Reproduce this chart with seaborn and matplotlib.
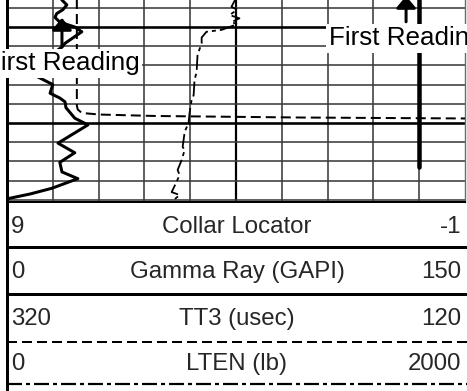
import matplotlib
matplotlib.use("Agg")
import matplotlib.pyplot as plt
import pandas as pd
import seaborn as sns

# ---- curve data, depth in ft ----
gr_depth = [1026.9, 1027.2, 1027.7, 1028.2, 1028.6, 1029.0, 1029.5, 1030.0, 1030.5,
            1031.0, 1031.7, 1032.1, 1033.1, 1034.3, 1035.2, 1036.0, 1036.9, 1037.4,
            1037.8, 1038.4, 1039.5, 1040.2, 1042.1, 1043.1, 1044.1, 1045.1, 1045.8,
            1046.8, 1047.4, 1047.9]
gr_value = [17.5, 18.0, 19.6, 18.3, 16.3, 15.7, 17.3, 22.2, 24.5,
            22.2, 19.0, 18.0, 13.4, 9.5, 10.1, 15.0, 14.1, 17.3,
            19.0, 19.3, 22.2, 26.5, 16.7, 22.2, 17.3, 18.0, 23.2,
            14.7, 7.5, 0.0]

tt3_depth = [1026.9, 1038.2, 1038.6, 1038.96, 1039.12, 1039.27, 1039.43, 1039.53, 1039.6]
tt3_value = [289.5, 289.5, 289.1, 287.3, 279.5, 255.5, 192.3, 119.6, 60.0]

lten_depth = [1026.9, 1027.9, 1028.2, 1028.75, 1029.1, 1029.5, 1029.7, 1030.0, 1030.3,
              1030.5, 1031.1, 1031.7, 1032.9, 1034.7, 1035.5, 1037.1, 1037.6, 1039.0,
              1040.0, 1040.9, 1042.5, 1042.8, 1043.9, 1044.9, 1045.4, 1046.1, 1047.2,
              1047.5, 1048.2]
lten_value = [1002, 980, 1006, 972, 1015, 980, 1006, 972, 937,
              871, 850, 850, 832, 828, 819, 815, 806, 797,
              793, 776, 767, 776, 762, 745, 754, 741, 719,
              754, 719]

ccl_depth = [1026.9, 1044.6]
ccl_value = [0.0, 0.0]

# header: curve name with left / right scale values
curve_names = ["Collar Locator", "Gamma Ray (GAPI)", "TT3 (usec)", "LTEN (lb)"]
scale_left = [9, 0, 320, 0]
scale_right = [-1, 150, 120, 2000]

# "First Reading" flags: arrow tip and label centre (depth, gamma-scale x)
flag_text = "First Reading"
flag_x = [18.0, 130.7]
flag_tip_depth = [1029.06, 1026.77]
flag_label_depth = [1033.80, 1031.20]

depth_top, depth_bottom = 1027.19, 1048.23

sns.set_theme(style="white")
plt.rcParams["font.family"] = ["Liberation Sans", "DejaVu Sans"]
plt.rcParams["lines.scale_dashes"] = False

W, H = 467, 391
fig = plt.figure(figsize=(W / 100, H / 100), dpi=100)
fig.patch.set_facecolor("white")


def frame(x0, y0, x1, y1):
    return [x0 / W, 1 - y1 / H, (x1 - x0) / W, (y1 - y0) / H]


PX = 0.72  # points per pixel
dash_tt3 = (0, (10 * PX, 5 * PX))
dash_lten = (0, (15 * PX, 4 * PX, 4 * PX, 4 * PX))

# ---- log track ----
ax = fig.add_axes(frame(7, 0, 465, 202))
hd = fig.add_axes(frame(7, 202, 467, 391))

ax.set_xlim(0, 150)
ax.set_ylim(depth_bottom, depth_top)
ax.set_xticks([])
ax.set_yticks([])
for k in range(1, 10):
    major = k == 5
    ax.axvline(15 * k, color="black" if major else "#3c3c3c",
               lw=2.2 * PX if major else 1.6 * PX, zorder=1)
for d in range(1028, 1049, 2):
    major = d % 10 == 0
    ax.axhline(d, color="black" if major else "#3c3c3c",
               lw=2.6 * PX if major else 1.6 * PX, zorder=1)
ax.spines["top"].set_visible(False)
ax.spines["left"].set_color("black")
ax.spines["left"].set_linewidth(3 * PX)
ax.spines["right"].set_color("#6a6a6a")
ax.spines["right"].set_linewidth(1.4 * PX)
ax.spines["bottom"].set_color("black")
ax.spines["bottom"].set_linewidth(2 * PX)


def draw_curve(axis, depth, value, **kw):
    df = pd.DataFrame({"depth": depth, "value": value})
    sns.lineplot(data=df, x="value", y="depth", orient="y", sort=False,
                 estimator=None, ax=axis, color="black", **kw)


ax_ccl = ax.twiny()
ax_gr = ax.twiny()
ax_tt3 = ax.twiny()
ax_lten = ax.twiny()

draw_curve(ax_ccl, ccl_depth, ccl_value, lw=4.5 * PX)
draw_curve(ax_gr, gr_depth, gr_value, lw=3 * PX)
draw_curve(ax_tt3, tt3_depth, tt3_value, lw=2 * PX, linestyle=dash_tt3)
draw_curve(ax_lten, lten_depth, lten_value, lw=1.8 * PX, linestyle=dash_lten)

for tw, lo, hi in [(ax_ccl, scale_left[0], scale_right[0]),
                   (ax_gr, scale_left[1], scale_right[1]),
                   (ax_tt3, scale_left[2], scale_right[2]),
                   (ax_lten, scale_left[3], scale_right[3])]:
    tw.set_xlim(lo, hi)
    tw.set_axis_off()
ax.set_ylim(depth_bottom, depth_top)

for fx, tip, lab in zip(flag_x, flag_tip_depth, flag_label_depth):
    ax_lten.annotate(
        flag_text, xy=(fx, tip), xycoords=ax.transData,
        xytext=(fx, lab), textcoords=ax.transData,
        ha="center", va="center", fontsize=18.7, color="black",
        annotation_clip=False, zorder=10,
        bbox=dict(boxstyle="square,pad=0.1", fc="white", ec="none"),
        arrowprops=dict(arrowstyle="-|>,head_length=0.72,head_width=0.6",
                        mutation_scale=10, lw=3 * PX, color="black",
                        shrinkA=1.5, shrinkB=0),
    )

# ---- header with curve scales ----
hd.patch.set_visible(False)
hd.set_xlim(0, 460)
hd.set_ylim(189, 0)
hd.set_xticks([])
hd.set_yticks([])
for side in ["top", "right", "bottom"]:
    hd.spines[side].set_visible(False)
hd.spines["left"].set_color("black")
hd.spines["left"].set_linewidth(3 * PX)

row_line = [45, 92, 139.5, 182]
row_base = [31, 76, 123, 168]
row_style = [dict(lw=3 * PX), dict(lw=3 * PX),
             dict(lw=2 * PX, linestyle=dash_tt3),
             dict(lw=2.2 * PX, linestyle=dash_lten)]
for name, lo, hi, yl, yb, st in zip(curve_names, scale_left, scale_right,
                                    row_line, row_base, row_style):
    hd.axhline(yl, color="black", **st)
    hd.text(4, yb, f"{lo:g}", ha="left", va="baseline", fontsize=17.3)
    hd.text(230, yb, name, ha="center", va="baseline", fontsize=17.3)
    hd.text(454, yb, f"{hi:g}", ha="right", va="baseline", fontsize=17.3)

fig.savefig("out.png", dpi=100, facecolor="white")
